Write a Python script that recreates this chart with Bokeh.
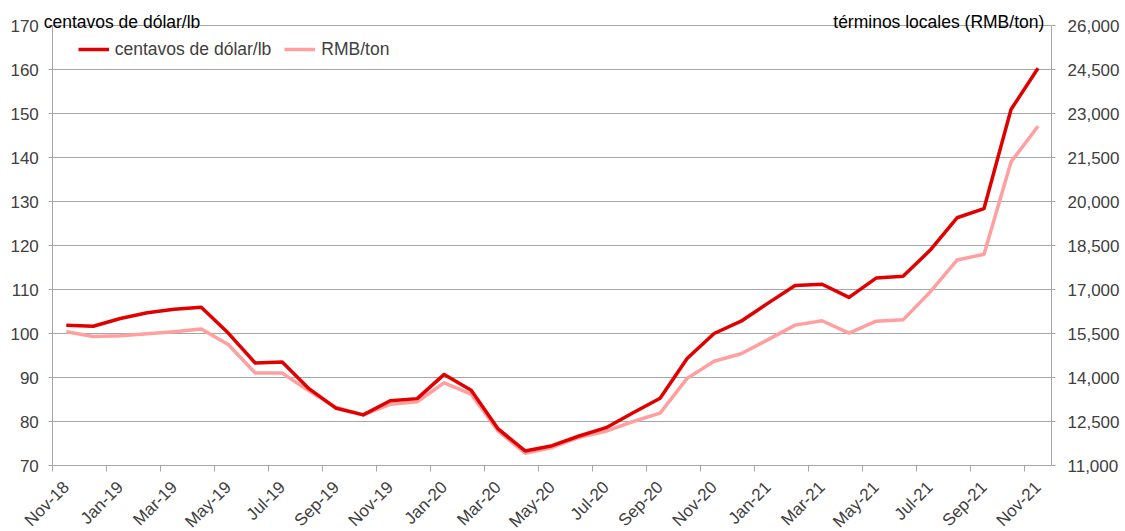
from bokeh.plotting import figure
from bokeh.models import (Range1d, LinearAxis, FixedTicker, NumeralTickFormatter, Grid,
                          Legend, LegendItem, Label, LabelSet, ColumnDataSource)
from bokeh.core.properties import value
from bokeh.embed import file_html
from bokeh.resources import INLINE
import math

categories = ["Nov-18", "Dec-18", "Jan-19", "Feb-19", "Mar-19", "Apr-19", "May-19", "Jun-19",
              "Jul-19", "Aug-19", "Sep-19", "Oct-19", "Nov-19", "Dec-19", "Jan-20", "Feb-20",
              "Mar-20", "Apr-20", "May-20", "Jun-20", "Jul-20", "Aug-20", "Sep-20", "Oct-20",
              "Nov-20", "Dec-20", "Jan-21", "Feb-21", "Mar-21", "Apr-21", "May-21", "Jun-21",
              "Jul-21", "Aug-21", "Sep-21", "Oct-21", "Nov-21"]

usc_lb = [101.9, 101.65, 103.4, 104.7, 105.5, 105.95, 100.1, 93.3,
          93.5, 87.4, 83.0, 81.5, 84.7, 85.2, 90.7, 87.1,
          78.3, 73.3, 74.5, 76.7, 78.6, 82.0, 85.3, 94.3,
          100.0, 102.8, 106.9, 110.9, 111.2, 108.2, 112.6, 113.0,
          118.9, 126.3, 128.4, 150.9, 160.3]

rmb_ton = [15560, 15395, 15425, 15490, 15560, 15650, 15125, 14150,
           14150, 13540, 12980, 12725, 13085, 13175, 13820, 13430,
           12170, 11420, 11615, 11960, 12170, 12500, 12785, 13970,
           14555, 14810, 15290, 15785, 15935, 15515, 15920, 15965,
           16910, 18005, 18200, 21350, 22565]

left_ticks = [70, 80, 90, 100, 110, 120, 130, 140, 150, 160, 170]
right_ticks = [11000, 12500, 14000, 15500, 17000, 18500, 20000, 21500, 23000, 24500, 26000]

left_title = "centavos de dólar/lb"
right_title = "términos locales (RMB/ton)"
series_names = ["centavos de dólar/lb", "RMB/ton"]

FONT = "Liberation Sans"
RED = "#E00000"
PINK = "#FF9F9F"
GRID = "#A6A6A6"
TXT = "#404040"

n = len(categories)
xs = list(range(n))

# geometry (pixels)
W, H = 1125, 531
FR = 1051                              # frame right (frame spans full height and left side)
AX_L, AX_T, AX_B = 52.3, 25.0, 465.0   # plot-area left edge, top (170) and bottom (70)
px_x = (FR - AX_L) / n
lo, hi = left_ticks[0], left_ticks[-1]
rlo, rhi = right_ticks[0], right_ticks[-1]
px_y = (AX_B - AX_T) / (hi - lo)
ratio = (rhi - rlo) / (hi - lo)
x0 = -0.5 - AX_L / px_x
ytop = hi + AX_T / px_y
ybot = lo - (H - AX_B) / px_y

p = figure(width=W, height=H, output_backend="svg", toolbar_location=None,
           x_range=Range1d(x0, n - 0.5), y_range=Range1d(ybot, ytop),
           min_border_left=0, min_border_right=W - FR, min_border_top=0, min_border_bottom=0)
p.outline_line_color = None
p.background_fill_color = "white"
p.border_fill_color = "white"

p.extra_y_ranges = {"rmb": Range1d(rlo - (lo - ybot) * ratio, rhi + (ytop - hi) * ratio)}

# category axis and left value axis are drawn with grids + label sets
p.xaxis.visible = False
p.yaxis.visible = False

tick_len = 6 / px_y
# left edge line of the plot area (with the first category tick below it)
p.xgrid.ticker = FixedTicker(ticks=[-0.5])
p.xgrid.cross_bounds = (lo - tick_len, hi)
p.xgrid.grid_line_color = GRID
p.xgrid.grid_line_width = 1
# category boundary tick marks every two months
p.add_layout(Grid(dimension=0, ticker=FixedTicker(ticks=[i - 0.5 for i in range(2, n, 2)]),
                  cross_bounds=(lo - tick_len, lo), grid_line_color=GRID, grid_line_width=1))

# horizontal grid (starts 4px left of the axis, like the tick marks)
p.ygrid.ticker = FixedTicker(ticks=left_ticks)
p.ygrid.cross_bounds = (-0.5 - 4 / px_x, n - 0.5)
p.ygrid.grid_line_color = GRID
p.ygrid.grid_line_width = 1

# month labels at category centres
mx = xs[::2]
month_src = ColumnDataSource(dict(x=mx, y=[lo - 19 / px_y] * len(mx), text=categories[::2]))
p.add_layout(LabelSet(x="x", y="y", text="text", source=month_src, angle=math.pi / 4,
                      text_align="right", text_baseline="middle", text_font=value(FONT),
                      text_font_size=value("17px"), text_color=value(TXT)))

# left value labels
left_src = ColumnDataSource(dict(x=[-0.5 - 14 / px_x] * len(left_ticks), y=left_ticks,
                                 text=[str(v) for v in left_ticks]))
p.add_layout(LabelSet(x="x", y="y", text="text", source=left_src,
                      text_align="right", text_baseline="middle", text_font=value(FONT),
                      text_font_size=value("17px"), text_color=value(TXT)))

# right axis
ra = LinearAxis(y_range_name="rmb", ticker=FixedTicker(ticks=right_ticks),
                formatter=NumeralTickFormatter(format="0,0"), bounds=(rlo, rhi))
ra.axis_line_color = GRID
ra.major_tick_line_color = GRID
ra.major_tick_out = 4
ra.major_tick_in = 0
ra.minor_tick_line_color = None
ra.major_label_standoff = 12
ra.major_label_text_font = FONT
ra.major_label_text_font_size = "17px"
ra.major_label_text_color = TXT
p.add_layout(ra, "right")

# lines
r_pink = p.line(xs, rmb_ton, line_color=PINK, line_width=3.5, line_join="round", y_range_name="rmb")
r_red = p.line(xs, usc_lb, line_color=RED, line_width=3.5, line_join="round")

# axis titles
p.add_layout(Label(x=-0.5 - (AX_L - 43.2) / px_x, y=hi + 3.8 / px_y, text=left_title,
                   text_align="left", text_baseline="alphabetic", text_font=FONT,
                   text_font_size="17.5px", text_color="black"))
p.add_layout(Label(x=-0.5 + (1043.8 - AX_L) / px_x, y=hi + 3.8 / px_y, text=right_title,
                   text_align="right", text_baseline="alphabetic", text_font=FONT,
                   text_font_size="17.5px", text_color="black"))

legend = Legend(items=[LegendItem(label=series_names[0], renderers=[r_red]),
                       LegendItem(label=series_names[1], renderers=[r_pink])],
                location=(77.7, H - 59.9), orientation="horizontal",
                padding=0, margin=0, spacing=13, label_standoff=6, glyph_width=31, glyph_height=20,
                border_line_color=None, background_fill_alpha=0,
                label_text_font=FONT, label_text_font_size="17.5px", label_text_color=TXT)
p.add_layout(legend)

open("out.html", "w").write(file_html(p, INLINE))
